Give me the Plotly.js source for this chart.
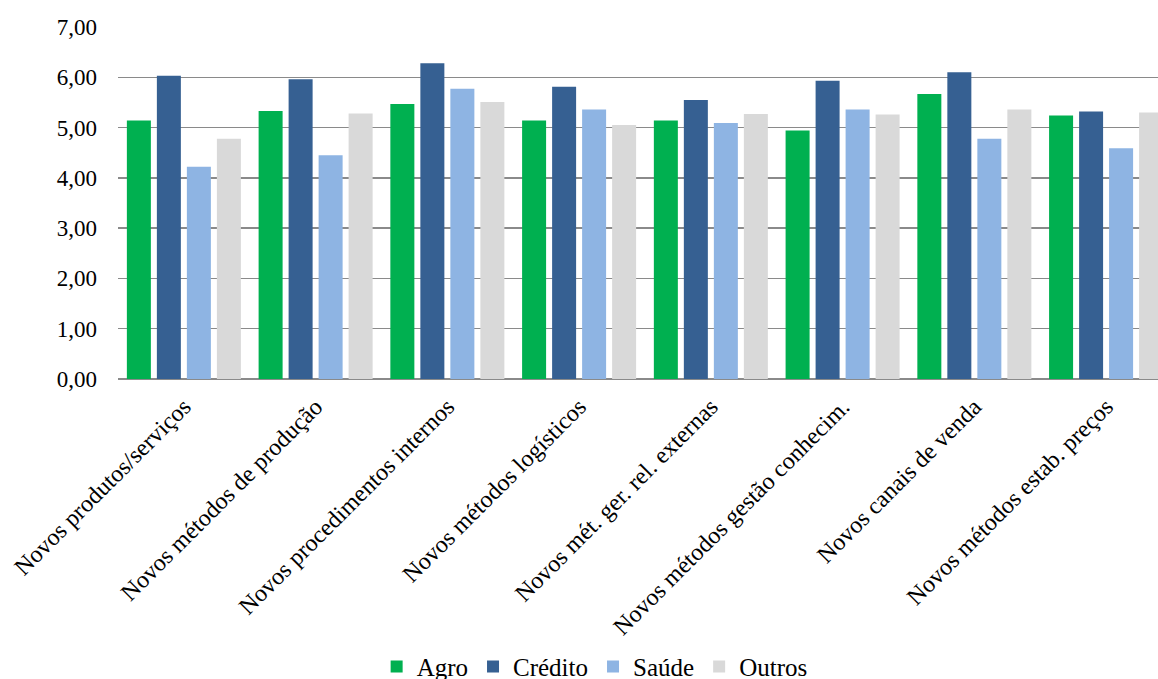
<!DOCTYPE html>
<html>
<head>
<meta charset="utf-8">
<script src="https://cdn.plot.ly/plotly-3.0.1.min.js"></script>
<style>
  html, body { margin: 0; padding: 0; background: #fff; }
  #chart { width: 1158px; height: 679px; }
</style>
</head>
<body>
<div id="chart"></div>
<script>
// Categories of innovation (x axis)
const categories = [
  "Novos produtos/serviços",
  "Novos métodos de produção",
  "Novos procedimentos internos",
  "Novos métodos logísticos",
  "Novos mét. ger. rel. externas",
  "Novos métodos gestão conhecim.",
  "Novos canais de venda",
  "Novos métodos estab. preços"
];

// Mean scores per sector
const agro    = [5.14, 5.33, 5.47, 5.14, 5.14, 4.94, 5.67, 5.24];
const credito = [6.03, 5.96, 6.28, 5.81, 5.55, 5.93, 6.10, 5.32];
const saude   = [4.22, 4.45, 5.77, 5.36, 5.09, 5.36, 4.78, 4.59];
const outros  = [4.78, 5.28, 5.51, 5.05, 5.27, 5.26, 5.36, 5.30];

const seriesNames  = ["Agro", "Crédito", "Saúde", "Outros"];
const seriesValues = [agro, credito, saude, outros];
const seriesColors = ["#00B050", "#366092", "#8EB4E3", "#D9D9D9"];

const yTicks = [0, 1, 2, 3, 4, 5, 6, 7];

const traces = seriesNames.map((name, i) => ({
  type: "bar",
  name: name,
  x: categories,
  y: seriesValues[i],
  marker: { color: seriesColors[i], line: { width: 0 } },
  hoverinfo: "x+y+name"
}));

const serif = "Liberation Serif";

const layout = {
  width: 1158,
  height: 679,
  margin: { l: 118, r: 0, t: 27, b: 300 },
  paper_bgcolor: "#ffffff",
  plot_bgcolor: "#ffffff",
  separators: ",.",
  font: { family: serif, size: 23, color: "#000000" },
  barmode: "group",
  bargap: 0.089,
  bargroupgap: 0.2,
  showlegend: true,
  xaxis: {
    type: "category",
    range: [-0.5, 7.394],
    tickangle: -45,
    showgrid: false,
    zeroline: false,
    showline: false,
    ticks: "",
    ticklabelstandoff: 8,
    tickfont: { family: serif, size: 24, color: "#000000" }
  },
  yaxis: {
    range: [0, 7],
    tickvals: yTicks,
    tickformat: ".2f",
    showgrid: true,
    gridcolor: "#8a8a8a",
    gridwidth: 1.5,
    zeroline: true,
    zerolinecolor: "#8a8a8a",
    zerolinewidth: 2,
    showline: false,
    ticks: "",
    ticklabelstandoff: 20,
    tickfont: { family: serif, size: 23, color: "#000000" }
  },
  legend: {
    orientation: "h",
    xref: "container",
    yref: "container",
    x: 0.5135,
    xanchor: "center",
    y: 0.018,
    yanchor: "middle",
    font: { family: serif, size: 25, color: "#000000" },
    bgcolor: "rgba(0,0,0,0)",
    traceorder: "normal"
  }
};

Plotly.newPlot("chart", traces, layout, { staticPlot: true, displayModeBar: false });
</script>
</body>
</html>
